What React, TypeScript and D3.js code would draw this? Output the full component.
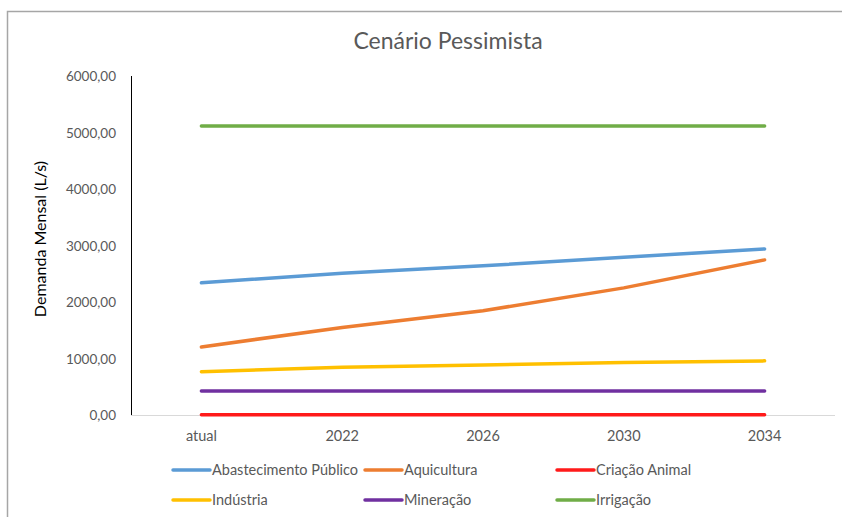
import * as d3 from "d3";
import { useEffect, useRef } from "react";

const categories = ["atual", "2022", "2026", "2030", "2034"];
const seriesNames = [
  "Abastecimento Público",
  "Aquicultura",
  "Criação Animal",
  "Indústria",
  "Mineração",
  "Irrigação",
];
const seriesColors = ["#5B9BD5", "#ED7D31", "#FF1A1A", "#FFC000", "#7030A0", "#70AD47"];
const abastecimento = [2340, 2510, 2640, 2790, 2940];
const aquicultura = [1205, 1550, 1845, 2250, 2745];
const criacaoAnimal = [5, 5, 5, 5, 5];
const industria = [765, 845, 885, 930, 958];
const mineracao = [425, 425, 425, 425, 425];
const irrigacao = [5115, 5115, 5115, 5115, 5115];
const seriesValues = [abastecimento, aquicultura, criacaoAnimal, industria, mineracao, irrigacao];
const yTicks = [0, 1000, 2000, 3000, 4000, 5000, 6000];

const W = 842;
const H = 517;
const FONT = "Lato, 'Open Sans', sans-serif";

function App() {
  const ref = useRef<SVGSVGElement>(null);

  useEffect(() => {
    const svg = d3.select(ref.current);
    svg.selectAll("*").remove();

    const x = d3.scaleBand().domain(categories).range([131, 835]);
    const y = d3.scaleLinear().domain([0, 6000]).range([415, 76]);

    svg.append("rect").attr("width", W).attr("height", H).attr("fill", "#fff");
    // chart border
    svg
      .append("path")
      .attr("d", `M7.5,${H} V11.5 H${W}`)
      .attr("fill", "none")
      .attr("stroke", "#a6a6a6")
      .attr("stroke-width", 1.5);

    svg
      .append("text")
      .attr("x", 448)
      .attr("y", 49)
      .attr("text-anchor", "middle")
      .attr("font-family", FONT)
      .attr("font-size", 23)
      .attr("fill", "#595959")
      .text("Cenário Pessimista");

    // y ticks
    svg
      .append("g")
      .selectAll("text")
      .data(yTicks)
      .join("text")
      .attr("x", 116)
      .attr("y", (d) => y(d) + 5)
      .attr("text-anchor", "end")
      .attr("font-family", FONT)
      .attr("font-size", 13.5)
      .attr("fill", "#595959")
      .text((d) => d3.format(".2f")(d).replace(".", ","));

    svg
      .append("text")
      .attr("transform", `translate(46,239) rotate(-90)`)
      .attr("text-anchor", "middle")
      .attr("font-family", FONT)
      .attr("font-size", 16)
      .attr("fill", "#000")
      .text("Demanda Mensal (L/s)");

    // axes
    svg
      .append("line")
      .attr("x1", 131)
      .attr("x2", 835)
      .attr("y1", y(0) + 0.5)
      .attr("y2", y(0) + 0.5)
      .attr("stroke", "#d9d9d9")
      .attr("stroke-width", 1);
    svg
      .append("line")
      .attr("x1", 131.5)
      .attr("x2", 131.5)
      .attr("y1", y(6000))
      .attr("y2", y(0))
      .attr("stroke", "#000")
      .attr("stroke-width", 1);

    svg
      .append("g")
      .selectAll("text")
      .data(categories)
      .join("text")
      .attr("x", (d) => (x(d) as number) + x.bandwidth() / 2)
      .attr("y", 441)
      .attr("text-anchor", "middle")
      .attr("font-family", FONT)
      .attr("font-size", 14.5)
      .attr("fill", "#595959")
      .text((d) => d);

    const line = d3
      .line<number>()
      .x((_, i) => (x(categories[i]) as number) + x.bandwidth() / 2)
      .y((d) => y(d));

    svg
      .append("g")
      .selectAll("path")
      .data(seriesValues)
      .join("path")
      .attr("d", (d) => line(d))
      .attr("fill", "none")
      .attr("stroke", (_, i) => seriesColors[i])
      .attr("stroke-width", 3.5)
      .attr("stroke-linecap", "round");

    // legend
    const legX = [173, 365, 557];
    const legY = [470, 500];
    const leg = svg
      .append("g")
      .selectAll("g")
      .data(seriesNames)
      .join("g")
      .attr("transform", (_, i) => `translate(${legX[i % 3]},${legY[Math.floor(i / 3)]})`);
    leg
      .append("line")
      .attr("x1", 0)
      .attr("x2", 37)
      .attr("stroke", (_, i) => seriesColors[i])
      .attr("stroke-width", 3.5)
      .attr("stroke-linecap", "round");
    leg
      .append("text")
      .attr("x", 39)
      .attr("y", 5)
      .attr("font-family", FONT)
      .attr("font-size", 14.5)
      .attr("fill", "#595959")
      .text((d) => d);
  }, []);

  return (
    <svg
      ref={ref}
      width={W}
      height={H}
      style={{ position: "absolute", left: 0, top: 0, display: "block" }}
    />
  );
}

export default App;
